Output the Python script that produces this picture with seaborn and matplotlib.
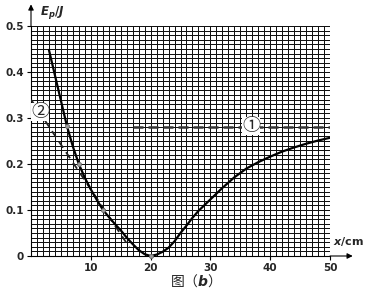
import numpy as np
import pandas as pd
import matplotlib
matplotlib.use("Agg")
import matplotlib.pyplot as plt
import seaborn as sns

# ---- data ----
curve_x = [3, 4, 5, 6, 7, 8, 9, 10, 11, 12, 13, 14, 15, 16, 17, 18, 19, 20,
           21, 22, 23, 24, 25, 26, 27, 28, 30, 32, 34, 36, 38, 40, 42, 44, 46, 48, 50]
curve_y = [0.448, 0.393, 0.338, 0.283, 0.238, 0.200, 0.170, 0.145, 0.122, 0.101,
           0.085, 0.070, 0.056, 0.040, 0.026, 0.013, 0.004, 0.000,
           0.003, 0.009, 0.018, 0.032, 0.050, 0.066, 0.083, 0.098, 0.123, 0.148,
           0.171, 0.190, 0.204, 0.216, 0.227, 0.236, 0.244, 0.251, 0.257]
mark_x = [6, 8, 12, 20]
mark_y = [0.283, 0.200, 0.101, 0.000]
line1_x = [17, 50]
line1_y = [0.28, 0.28]
line2_x = [0, 16.5]
line2_y = [0.34, 0.018]
x_ticks = [10, 20, 30, 40, 50]
x_ticklabels = ["10", "20", "30", "40", "50"]
y_ticks = [0, 0.1, 0.2, 0.3, 0.4, 0.5]
y_ticklabels = ["0", "0.1", "0.2", "0.3", "0.4", "0.5"]

sns.set_style("white")
plt.rcParams["font.family"] = ["DejaVu Sans", "Noto Sans CJK SC"]
plt.rcParams["mathtext.fontset"] = "custom"
plt.rcParams["mathtext.it"] = "DejaVu Sans:italic:bold"
plt.rcParams["mathtext.rm"] = "DejaVu Sans:bold"
plt.rcParams["mathtext.bf"] = "DejaVu Sans:bold"

fig = plt.figure(figsize=(3.84, 3.04), dpi=100)
ax = fig.add_axes([31/384, 48/304, 299/384, 230/304])

df = pd.DataFrame({"x": curve_x, "y": curve_y})

# grid
ax.set_xlim(0, 50)
ax.set_ylim(0, 0.5)
ax.set_xticks(np.arange(0, 51, 1), minor=True)
ax.set_yticks(np.arange(0, 0.501, 0.01), minor=True)
ax.set_xticks(x_ticks)
ax.set_xticklabels(x_ticklabels, fontsize=7.5, fontweight="bold")
ax.set_yticks(y_ticks)
ax.set_yticklabels(y_ticklabels, fontsize=7.5, fontweight="bold")
ax.grid(which="both", color="#111111", lw=0.72, antialiased=False)
ax.set_axisbelow(True)
ax.tick_params(which="minor", length=0)
ax.tick_params(which="major", length=3, width=0.8, direction="out", pad=2,
               left=True, bottom=True, color="black")
for s in ["top", "right"]:
    ax.spines[s].set_visible(False)
for s in ["left", "bottom"]:
    ax.spines[s].set_color("black")
    ax.spines[s].set_linewidth(0.8)

# dashed lines
ax.plot(line1_x, line1_y, ls=(0, (4, 2)), color="#333333", lw=1.8, zorder=3)
ax.plot(line2_x, line2_y, ls=(0, (4, 3)), color="#222222", lw=1.3, zorder=3)

# curve
sns.lineplot(data=df, x="x", y="y", color="black", lw=1.6, ax=ax, zorder=4,
             sort=True)
ax.scatter(mark_x, mark_y, s=9, color="#999999", edgecolor="#666666",
           linewidth=0.5, zorder=5, clip_on=False)
ax.set_xlabel("")
ax.set_ylabel("")

# circled labels
ax.text(36.8, 0.282, "①", fontsize=13, ha="center", va="center",
        family=["Noto Sans CJK SC", "DejaVu Sans"], zorder=6,
        bbox=dict(boxstyle="square,pad=0.0", fc="white", ec="none"))
ax.text(1.5, 0.314, "②", fontsize=13, ha="center", va="center",
        family=["Noto Sans CJK SC", "DejaVu Sans"], zorder=6,
        bbox=dict(boxstyle="square,pad=0.0", fc="white", ec="none"))

# axis arrows
ax.annotate("", xy=(53.8, 0), xytext=(50, 0), annotation_clip=False,
            arrowprops=dict(arrowstyle="-|>", color="black", lw=0.8,
                            mutation_scale=8, shrinkA=0, shrinkB=0))
ax.annotate("", xy=(0, 0.547), xytext=(0, 0.5), annotation_clip=False,
            arrowprops=dict(arrowstyle="-|>", color="black", lw=0.8,
                            mutation_scale=8, shrinkA=0, shrinkB=0))

# axis titles
fig.text(40/384, 1 - 13/304, r"$E_p/J$", fontsize=8.5, ha="left", va="center")
fig.text(348/384, 1 - 242/304, r"$x$/cm", fontsize=8, fontweight="bold",
         ha="center", va="center")
fig.text(192/384, 1 - 281/304, r"图（$b$）", fontsize=10, ha="center",
         va="center", family=["Noto Sans CJK SC", "DejaVu Sans"])

fig.savefig("out.png", dpi=100)
